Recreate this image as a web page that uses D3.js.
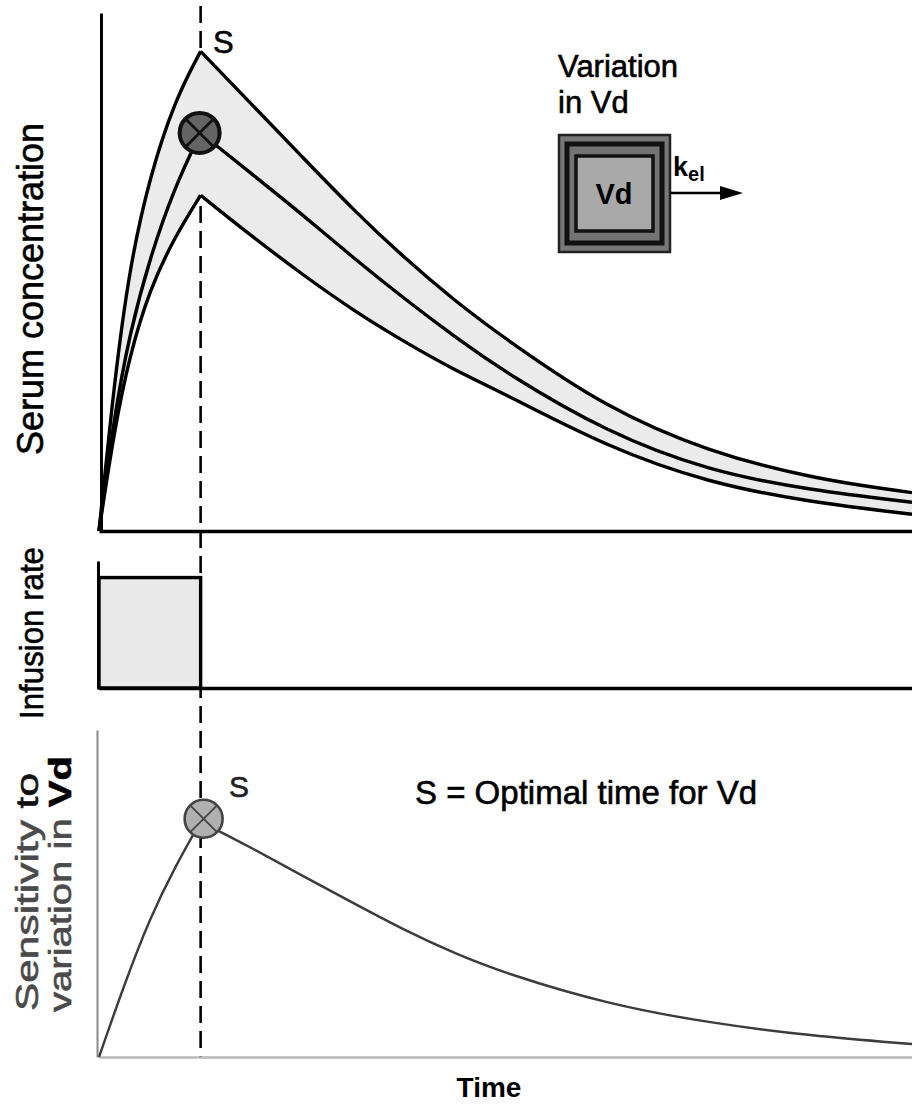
<!DOCTYPE html>
<html lang="en">
<head>
    <meta charset="UTF-8">
    <script src="https://d3js.org/d3.v7.min.js"></script>
    <style>
        body {
            margin: 0;
            background: #fff;
        }
        svg {
            display: block;
            font-family: "Liberation Sans", Arial, Helvetica, sans-serif;
        }
    </style>
</head>
<body>
    <svg id="chart" width="912" height="1106"></svg>
    <script>
        // time axis (arbitrary units, infusion stops at t = 1)
        const times = [0, 0.15, 0.3, 0.5, 0.75, 1, 1.5, 2, 2.5, 3, 3.5, 4, 5, 6, 7, 8];
        // serum concentration for three volumes of distribution
        const concHigh = [0, 31, 55, 74, 90, 100, 89, 78, 67, 57, 48, 40, 25.5, 16.5, 11, 8];
        const concMid = [0, 24, 41, 57, 72, 83, 74.5, 66, 57, 48.5, 40.5, 33, 20.5, 12.5, 8.5, 6];
        const concLow = [0, 21, 36.5, 50.5, 61.5, 70, 61.5, 53.5, 46, 39.5, 33.5, 28.5, 17.5, 10, 6, 3.5];

        // sensitivity of concentration to variation in Vd
        const sensTimes = [0, 0.25, 0.5, 0.75, 1, 1.5, 2, 2.5, 3, 3.5, 4, 5, 6, 7, 8];
        const sensitivity = [0, 31, 59, 81, 100, 89, 77, 65.5, 54, 44, 35.5, 22.5, 14.5, 9, 5.5];

        // infusion regimen
        const infusionStart = 0, infusionStop = 1, infusionRate = 1;
        const optimalTime = 1;

        const svg = d3.select("#chart");

        // scales
        const x = d3.scaleLinear().domain([0, 8]).range([99, 912]);
        const yConc = d3.scaleLinear().domain([0, 108]).range([531, 13]);
        const yRate = d3.scaleLinear().domain([0, 1.15]).range([688, 561]);
        const ySens = d3.scaleLinear().domain([0, 139]).range([1057, 730]);

        const conc = times.map((t, i) => ({ t, hi: concHigh[i], mid: concMid[i], lo: concLow[i] }));
        const sens = sensTimes.map((t, i) => ({ t, v: sensitivity[i] }));

        // split into rise and fall so the peak stays sharp
        const rise = arr => arr.filter(d => d.t <= optimalTime);
        const fall = arr => arr.filter(d => d.t >= optimalTime);

        // dashed line at the optimal sampling time
        svg.append("line")
            .attr("x1", x(optimalTime)).attr("x2", x(optimalTime))
            .attr("y1", 6).attr("y2", ySens(0))
            .attr("stroke", "#000")
            .attr("stroke-width", 2.6)
            .attr("stroke-dasharray", "17,8");

        // ---------- top panel: serum concentration ----------
        const bandFill = "#ebebeb";
        const band = d3.area()
            .x(d => x(d.t))
            .y0(d => yConc(d.lo))
            .y1(d => yConc(d.hi))
            .curve(d3.curveBasis);

        [rise(conc), fall(conc)].forEach(seg => {
            svg.append("path")
                .datum(seg)
                .attr("d", band)
                .attr("fill", bandFill)
                .attr("stroke", bandFill)
                .attr("stroke-width", 1.5);
        });

        ["hi", "mid", "lo"].forEach(key => {
            const line = d3.line()
                .x(d => x(d.t))
                .y(d => yConc(d[key]))
                .curve(d3.curveBasis);
            [rise(conc), fall(conc)].forEach(seg => {
                svg.append("path")
                    .datum(seg)
                    .attr("d", line)
                    .attr("fill", "none")
                    .attr("stroke", "#000")
                    .attr("stroke-width", 3.4)
                    .attr("stroke-linejoin", "round");
            });
        });

        svg.append("g")
            .attr("transform", `translate(0,${yConc(0)})`)
            .call(d3.axisBottom(x).tickValues([]).tickSizeOuter(0))
            .select(".domain").attr("stroke-width", 3.5);

        svg.append("g")
            .attr("transform", `translate(${x(0) + 2},0)`)
            .call(d3.axisLeft(yConc).tickValues([]).tickSizeOuter(0))
            .select(".domain").attr("stroke-width", 3);

        // circled cross marker
        const drawMarker = (cx, cy, r, fill, stroke, sw) => {
            const g = svg.append("g").attr("transform", `translate(${cx},${cy})`);
            g.append("circle").attr("r", r).attr("fill", fill)
                .attr("stroke", stroke).attr("stroke-width", sw);
            const k = r * Math.SQRT1_2;
            g.append("path")
                .attr("d", `M${-k},${-k}L${k},${k}M${k},${-k}L${-k},${k}`)
                .attr("stroke", stroke).attr("stroke-width", sw * 0.7);
        };
        drawMarker(x(optimalTime) - 1, yConc(concMid[times.indexOf(optimalTime)]), 20, "#646464", "#111", 4);

        // text helper: slight outline to mimic the heavier printed type
        const label = (sel, size, fill) => sel
            .attr("font-size", size)
            .attr("fill", fill)
            .attr("stroke", fill)
            .attr("stroke-width", 0.6);

        label(svg.append("text").attr("x", 213).attr("y", 53), 31, "#000").text("S");

        // inset: compartment diagram
        label(svg.append("text").attr("x", 558).attr("y", 77), 31, "#000").text("Variation");
        label(svg.append("text").attr("x", 558).attr("y", 113), 31, "#000").text("in Vd");

        const inset = svg.append("g").attr("transform", "translate(559,135)");
        inset.append("rect")
            .attr("width", 111).attr("height", 117)
            .attr("fill", "#777").attr("stroke", "#222").attr("stroke-width", 2.5);
        inset.append("rect")
            .attr("x", 8).attr("y", 9).attr("width", 95).attr("height", 99)
            .attr("fill", "#737373").attr("stroke", "#111").attr("stroke-width", 5);
        inset.append("rect")
            .attr("x", 17).attr("y", 21).attr("width", 77).attr("height", 75)
            .attr("fill", "#a9a9a9").attr("stroke", "#111").attr("stroke-width", 3.5);
        inset.append("text")
            .attr("x", 55).attr("y", 69)
            .attr("text-anchor", "middle")
            .attr("font-size", 29).attr("font-weight", "bold")
            .text("Vd");

        svg.append("line")
            .attr("x1", 670).attr("x2", 724).attr("y1", 193).attr("y2", 193)
            .attr("stroke", "#000").attr("stroke-width", 2.6);
        svg.append("path")
            .attr("d", "M743,193L720,186L720,200Z")
            .attr("fill", "#000");

        const kel = svg.append("text")
            .attr("x", 673).attr("y", 176)
            .attr("font-size", 27).attr("font-weight", "bold");
        kel.append("tspan").text("k");
        kel.append("tspan").attr("dy", 5).attr("font-size", 20).text("el");

        // ---------- middle panel: infusion rate ----------
        svg.append("rect")
            .attr("x", x(infusionStart))
            .attr("y", yRate(infusionRate))
            .attr("width", x(infusionStop) - x(infusionStart))
            .attr("height", yRate(0) - yRate(infusionRate))
            .attr("fill", "#e9e9e9")
            .attr("stroke", "#000")
            .attr("stroke-width", 3.4);

        svg.append("g")
            .attr("transform", `translate(0,${yRate(0)})`)
            .call(d3.axisBottom(x).tickValues([]).tickSizeOuter(0))
            .select(".domain").attr("stroke-width", 3.5);

        svg.append("g")
            .attr("transform", `translate(${x(0) - 1},0)`)
            .call(d3.axisLeft(yRate).tickValues([]).tickSizeOuter(0))
            .select(".domain").attr("stroke-width", 3);

        // ---------- bottom panel: sensitivity ----------
        svg.append("g")
            .attr("transform", `translate(0,${ySens(0)})`)
            .call(d3.axisBottom(x).tickValues([]).tickSizeOuter(0))
            .select(".domain").attr("stroke", "#b8b8b8").attr("stroke-width", 2.5);

        svg.append("g")
            .attr("transform", `translate(${x(0) - 2},0)`)
            .call(d3.axisLeft(ySens).tickValues([]).tickSizeOuter(0))
            .select(".domain").attr("stroke", "#8a8a8a").attr("stroke-width", 2);

        const sensLine = d3.line()
            .x(d => x(d.t))
            .y(d => ySens(d.v))
            .curve(d3.curveBasis);
        [rise(sens), fall(sens)].forEach(seg => {
            svg.append("path")
                .datum(seg)
                .attr("d", sensLine)
                .attr("fill", "none")
                .attr("stroke", "#3c3c3c")
                .attr("stroke-width", 2.4);
        });

        drawMarker(x(optimalTime) + 3, ySens(d3.max(sensitivity)) - 3, 19, "#b0b0b0", "#444", 2.6);

        label(svg.append("text").attr("x", 229).attr("y", 797), 30, "#222").text("S");
        label(svg.append("text").attr("x", 415).attr("y", 804), 33, "#000").text("S = Optimal time for Vd");

        // ---------- axis titles ----------
        const vLabel = (xPos, yMid, size, len, fill) => label(svg.append("text")
            .attr("transform", `translate(${xPos},${yMid}) rotate(-90)`)
            .attr("text-anchor", "middle")
            .attr("textLength", len)
            .attr("lengthAdjust", "spacingAndGlyphs"), size, fill);

        vLabel(43, 289, 36, 332, "#000").text("Serum concentration");
        vLabel(43, 633, 34, 172, "#000").text("Infusion rate");
        const st = vLabel(38, 892, 31, 238, "#4a4a4a");
        st.append("tspan").text("Sensitivity ");
        st.append("tspan").attr("fill", "#111").attr("stroke", "#111").text("to");
        const vd = vLabel(71, 884, 31, 256, "#4a4a4a");
        vd.append("tspan").text("variation in ");
        vd.append("tspan").attr("font-weight", "bold").attr("fill", "#000").attr("stroke", "#000").text("Vd");

        svg.append("text")
            .attr("x", 489).attr("y", 1097)
            .attr("text-anchor", "middle")
            .attr("font-size", 28).attr("font-weight", "bold")
            .text("Time");
    </script>
</body>
</html>
